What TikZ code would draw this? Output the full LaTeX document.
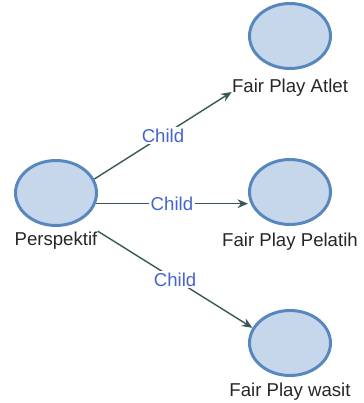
\documentclass[tikz,border=0pt]{standalone}
\usepackage{fontspec}
\setmainfont{Liberation Sans}
\usetikzlibrary{arrows.meta,shapes.geometric}
\definecolor{nodeblue}{RGB}{88,135,190}
\definecolor{nodefill}{RGB}{198,214,235}
\definecolor{edgegreen}{RGB}{58,88,84}
\definecolor{childblue}{RGB}{70,100,205}

\begin{document}
\begin{tikzpicture}[x=0.02cm,y=-0.02cm,
  topic/.style={ellipse, draw=nodeblue, fill=nodefill, line width=1.7pt, minimum width=1.62cm, minimum height=1.3cm, inner sep=0pt},
  caption/.style={anchor=base, inner sep=0pt, text=black!85, font=\fontsize{10.6}{12}\selectfont},
  link/.style={draw=edgegreen, line width=0.8pt, -{Stealth[length=6pt,width=5pt]}},
  child/.style={midway, fill=white, inner sep=1pt, text=childblue, font=\fontsize{10.6}{12}\selectfont}]
\useasboundingbox (0,0) rectangle (363,403);

% Root
\node[topic] (persp) at (56,193) {};
\node[caption] (persp-cap) at (56,245) {Perspektif};

% Children
\foreach \name/\y/\base/\txt in {atlet/36/92/Fair Play Atlet, pelatih/192/246/Fair Play Pelatih, wasit/343/396/Fair Play wasit} {
  \node[topic] (\name) at (290,\y) {};
  \node[caption] (\name-cap) at (290,\base) {\txt};
}

% Child links
\draw[link] (persp.20) -- (atlet-cap.base west) node[child] {Child};
\draw[link] (persp.-15) -- (persp.-15 -| pelatih.west) node[child] {Child};
\draw[link] (persp-cap.north east) -- (wasit.158) node[child] {Child};
\end{tikzpicture}
\end{document}
